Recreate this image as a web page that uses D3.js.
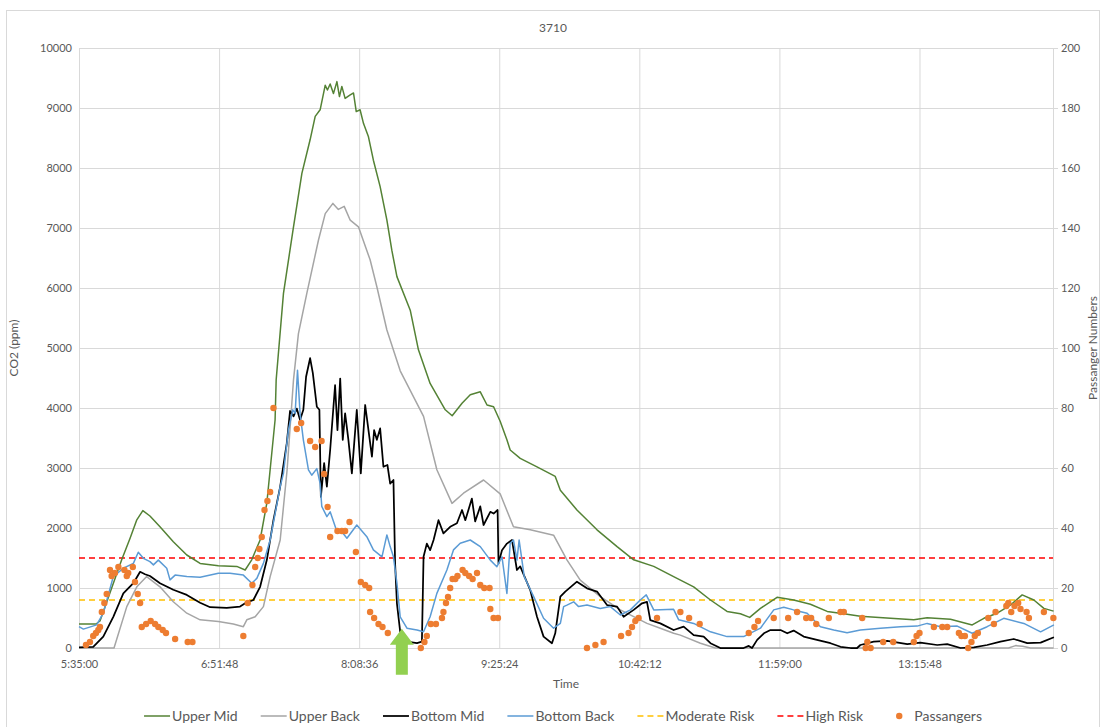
<!DOCTYPE html>
<html>
<head>
<meta charset="utf-8">
<script src="https://cdn.jsdelivr.net/npm/d3@7"></script>
<style>
  body { margin: 0; background: #fff; }
  svg text { font-family: Lato, "Open Sans", sans-serif; fill: #595959; }
</style>
</head>
<body>
<div id="chart"></div>
<script>
// Bus 3710 — CO2 at four sensor positions + passenger count
// time values are minutes after the first sample (5:35:00)

const startClock = "5:35:00";
const endMinutes = 534;
const timeTicks = ["5:35:00", "6:51:48", "8:08:36", "9:25:24", "10:42:12", "11:59:00", "13:15:48"];
const co2Ticks = [0, 1000, 2000, 3000, 4000, 5000, 6000, 7000, 8000, 9000, 10000];
const paxTicks = [0, 20, 40, 60, 80, 100, 120, 140, 160, 180, 200];

const moderateRisk = 800;
const highRisk = 1500;

// green arrow annotation (time, ppm at tip)
const arrowTime = 177;
const arrowPpm = 320;

const upperMid = [
  [0,400],[9.3,400],[11.5,450],[17,920],[23.4,1470],[28,1830],[31.6,2130],[35,2290],[38.9,2200],[44.4,2020],
  [51.7,1770],[59.1,1550],[66.4,1410],[76.4,1370],[86.5,1360],[91.1,1300],[94.7,1470],[99.3,1800],[103,2420],
  [105.7,3250],[107.5,3800],[108.1,4470],[112.1,5910],[117.6,7020],[122.2,7910],[126.7,8470],[129.5,8860],
  [132.2,8970],[135,9380],[136.2,9300],[137.7,9400],[139.5,9240],[141.4,9440],[142.8,9190],[144.1,9360],
  [145.9,9160],[148.7,9220],[150.5,9250],[152,8940],[154.1,8970],[156,8740],[158.7,8520],[161.4,8130],
  [165.1,7690],[168.8,7130],[171.5,6630],[174.3,6190],[181.6,5630],[186.1,4970],[192.5,4410],[200.8,3970],
  [204.6,3870],[210,4080],[214.5,4220],[220,4270],[223.7,4050],[227.3,4020],[230.9,3780],[234.6,3470],
  [236.4,3300],[241.9,3160],[251.1,3020],[261.1,2860],[263.9,2630],[273,2300],[284,1970],[295,1690],
  [304.1,1470],[315.1,1360],[326,1190],[337,1020],[346.2,800],[355.3,610],[362.6,570],[367.7,510],
  [373.6,660],[382.7,845],[391.8,800],[401,730],[410.2,610],[419.3,570],[428.4,530],[444.9,495],
  [457.7,470],[465,505],[477.8,480],[489.7,385],[496.1,495],[503.4,580],[510.7,715],[517.1,885],
  [523.5,800],[529,660],[534.3,615]
];

const upperBack = [
  [0,0],[19.2,0],[26.2,690],[31.7,1020],[37.1,1190],[44.4,1020],[51.7,770],[59.1,580],[66.4,470],[76.4,440],
  [84.6,400],[90.1,355],[92,470],[96.6,520],[101.1,690],[104.8,1190],[110.3,1800],[114.1,2970],[117.6,4470],
  [120.3,5240],[124.9,5910],[131.3,6800],[135,7240],[139.2,7410],[142.2,7310],[145.4,7360],[148.7,7130],
  [153.2,7020],[159.6,6470],[163.3,6020],[168.8,5300],[176.1,4620],[188.9,3860],[196.2,2970],[204.5,2410],
  [210.8,2580],[221.8,2800],[230.9,2570],[238.2,2020],[247.4,1970],[260.2,1880],[267.5,1470],[274.8,1130],
  [285.8,855],[296.8,635],[311.4,410],[318.7,330],[326,245],[329.7,215],[340.7,80],[348.9,0],[509.6,0],
  [513.5,40],[517.3,30],[521.7,0],[534.3,0]
];

const bottomMid = [
  [0,10],[7.8,20],[13.3,190],[18.8,520],[24.3,910],[29.8,1080],[33.5,1270],[36.2,1230],[38.9,1200],[44.4,1080],
  [51.7,970],[59.1,885],[66.4,755],[71.9,680],[81,670],[88.3,690],[91.1,745],[95.6,800],[99.3,1020],[103,1470],
  [106.6,2130],[110.3,2690],[113.9,3410],[115.7,3950],[117.6,3860],[119.4,3990],[121.2,3800],[123,3970],
  [124.5,4520],[126.7,4830],[128.2,4580],[130.4,4020],[131.8,3970],[132.6,2520],[134.4,3080],[135.9,2690],
  [137.7,3300],[140.4,4380],[141.7,3630],[143.2,4490],[144.6,3470],[145.9,3910],[147.7,3470],[149.6,2910],
  [152.3,3970],[154.5,2910],[156.9,4050],[158.7,3630],[160.6,3190],[161.8,3630],[163.3,3470],[165.1,3660],
  [166.9,3020],[169.1,3050],[170.6,2740],[172.4,2800],[173.3,1410],[174.3,745],[176.1,270],[179.8,105],
  [185.3,80],[188,105],[188.9,1520],[190.7,1740],[192.5,1630],[194.4,1800],[197.1,2130],[199.8,1910],
  [203.5,2020],[207.2,2080],[210,2300],[211.8,2130],[215.4,2490],[217.2,2110],[220,2360],[221.8,2050],
  [225.5,2270],[227.3,2240],[229.5,2300],[230,1410],[231.9,1630],[234.6,1740],[237.4,1800],[240.1,1300],
  [241.9,1360],[247.4,965],[251.1,520],[254.7,190],[259.3,80],[261.1,245],[263.9,855],[266.6,940],
  [273,1105],[278.5,995],[284,940],[289.5,715],[295,690],[298.6,520],[304.1,635],[308.7,745],[311.4,770],
  [313.2,465],[318.7,410],[326,300],[331.5,355],[337,215],[342.5,190],[346.2,80],[351.6,0],[364.4,0],
  [367.2,35],[369,0],[371.8,135],[375.5,245],[379.1,300],[384.6,300],[388.3,245],[391.8,290],[397.3,190],
  [404.6,135],[412,80],[417.5,20],[423,0],[426.6,0],[428.4,50],[435.7,105],[443.1,120],[454.1,65],
  [461.3,90],[470.5,50],[476,65],[483.3,0],[490.6,10],[497.9,50],[505.2,105],[512.5,150],[519.9,80],
  [527.2,90],[534.5,180]
];

const bottomBack = [
  [0,355],[2.4,315],[9.7,385],[13.3,580],[18.8,1190],[24.3,1330],[29.8,1410],[32.5,1595],[35.3,1495],
  [38.9,1440],[40.8,1385],[43.5,1465],[48.1,1330],[49.9,1135],[52.7,1215],[59.1,1190],[66.4,1180],
  [76.4,1245],[82.8,1245],[90.1,1215],[94.7,1080],[97.5,1160],[101.1,1410],[104.8,1800],[110.3,2690],
  [112.1,2910],[114.8,3630],[117.2,3970],[118.5,3910],[119.8,4630],[121.2,3910],[123,3470],[125.8,2970],
  [127.6,2880],[130.4,2990],[132.2,2740],[133.1,2360],[135.9,2190],[137.7,2270],[141.4,1940],[143.2,1970],
  [146.9,1830],[152.3,2050],[157.8,1855],[161.4,1635],[166.1,1520],[168.8,1885],[170.6,1690],[172.4,1520],
  [174.3,1080],[176.1,520],[179.8,330],[185.3,300],[188.9,270],[192.5,520],[196.2,910],[201.7,1300],
  [205.3,1635],[209,1745],[214.5,1800],[220,1690],[225.5,1465],[229.1,1355],[231.9,1520],[234.6,910],
  [236.4,1745],[238.2,1800],[240.1,1465],[241.3,1800],[244.1,1190],[249.2,860],[254.7,495],[260.2,330],
  [263.9,410],[265.7,690],[267.5,715],[271.2,770],[273.9,690],[278.5,715],[285.8,660],[291.3,690],
  [296.8,550],[302.3,635],[307.7,800],[311,885],[315.1,635],[326,645],[328.8,470],[337,410],[346.2,270],
  [355.3,190],[364.4,190],[373.6,330],[380.9,635],[386.4,680],[391.8,635],[399.2,580],[406.5,355],
  [413.8,300],[421.1,255],[428.4,300],[439.4,330],[450.4,355],[459.5,365],[465,410],[472.3,355],
  [481.5,365],[489.7,245],[497.9,355],[507,495],[518,410],[527.2,270],[534.5,385]
];

const passengers = [
  [3.8,1],[6,2],[7.8,4],[9.3,5],[10.6,6],[11.5,7],[12.5,12],[13.9,15],[15.2,18],[17,26],[17.9,24],[19.7,25],
  [21.6,27],[24.9,26],[26.2,24],[27,25],[29.5,27],[30.7,22],[32.2,18],[33.5,15],[34.4,7],[36.8,8],[39.3,9],
  [41.7,8],[43.5,7],[45.9,6],[47.7,5],[52.7,3],[59.6,2],[62.2,2],[90.1,4],[92.5,15],[95.1,21],[96.6,27],
  [98,30],[98.9,33],[100.2,37],[101.7,46],[103.3,49],[104.8,52],[106.6,80],[119.4,73],[121.8,75],[126.7,69],
  [129.5,67],[133,69],[134.4,58],[136.3,47],[137.7,37],[141.7,39],[144.1,39],[145.9,39],[148.3,42],
  [151.8,32],[154.5,22],[156.9,21],[159.1,20],[159.6,12],[161.8,10],[164.2,8],[166.4,7],[169.3,5],
  [187.4,0],[189.4,2],[190.7,4],[192.9,8],[195.7,8],[199,10],[199.8,12],[201.2,15],[202.3,17],[203.5,20],
  [204.8,23],[206.3,23],[207.5,24],[210.3,26],[211.8,25],[213.9,24],[215.8,23],[218.2,25],[220,21],
  [222.2,20],[225.1,20],[225.5,13],[227.3,10],[229.7,10],[278.5,0],[283.1,1],[287.6,2],[297.2,4],
  [301.3,5],[303.2,7],[305,9],[306.8,10],[316.9,10],[329.7,12],[334.5,10],[340.3,8],[367.2,5],[370.3,7],
  [372.3,9],[380.9,10],[388.8,10],[393.7,12],[398.7,10],[401.4,10],[404.2,8],[411.1,10],[417.5,12],
  [419.3,12],[429.4,10],[431.3,0],[432.2,2],[434,0],[440.9,2],[446.4,2],[457.7,2],[459.2,4],[460.8,5],
  [468.7,7],[473.3,7],[476,7],[482.4,5],[483.8,4],[485.7,4],[487.5,0],[489.3,2],[491.1,4],[492.8,5],
  [498.5,10],[501.6,8],[502.5,12],[508.4,14],[509.5,15],[511.1,12],[512.9,14],[514.9,15],[516.2,13],
  [519.5,12],[520.8,10],[529,12],[534.2,10]
];

const lineSeries = [
  { name: "Upper Mid",   data: upperMid,   color: "#548235", width: 1.5 },
  { name: "Upper Back",  data: upperBack,  color: "#a5a5a5", width: 1.5 },
  { name: "Bottom Mid",  data: bottomMid,  color: "#000000", width: 1.75 },
  { name: "Bottom Back", data: bottomBack, color: "#5b9bd5", width: 1.5 }
];
const riskLines = [
  { name: "Moderate Risk", value: moderateRisk, color: "#ffc000" },
  { name: "High Risk",     value: highRisk,     color: "#ff0000" }
];
const paxColor = "#ed7d31";

function clockToMin(s) {
  const [h, m, sec] = s.split(":").map(Number);
  return h * 60 + m + sec / 60;
}
const t0 = clockToMin(startClock);

const width = 1103, height = 727;
const margin = { top: 48, right: 50, bottom: 79, left: 79 };
const plot_width = width - margin.left - margin.right;
const plot_height = height - margin.top - margin.bottom;

const svg = d3.select("#chart").append("svg")
  .attr("width", width)
  .attr("height", height);

// chart area border
svg.append("rect")
  .attr("x", 6.5).attr("y", 10.5)
  .attr("width", 1093).attr("height", 740)
  .attr("fill", "#fff")
  .attr("stroke", "#d9d9d9");

const plot = svg.append("g")
  .attr("transform", `translate(${margin.left},${margin.top})`);

// SCALES
const xScale = d3.scaleLinear().domain([0, endMinutes]).range([0, plot_width]);
const yScale = d3.scaleLinear().domain([0, 10000]).range([plot_height, 0]);
const y2Scale = d3.scaleLinear().domain([0, 200]).range([plot_height, 0]);

// GRIDLINES
plot.append("g")
  .attr("class", "grid")
  .call(d3.axisLeft(yScale).tickValues(co2Ticks).tickSize(-plot_width).tickFormat(""))
  .call(g => g.select(".domain").remove());

plot.append("g")
  .attr("class", "grid")
  .attr("transform", `translate(0,${plot_height})`)
  .call(d3.axisBottom(xScale)
    .tickValues(timeTicks.map(s => clockToMin(s) - t0))
    .tickSize(-plot_height)
    .tickPadding(12)
    .tickFormat((d, i) => timeTicks[i]));

plot.selectAll(".grid line").attr("stroke", "#d9d9d9");
plot.selectAll(".grid .domain").attr("stroke", "#d9d9d9");

// AXES
plot.append("g")
  .attr("class", "axis y-axis")
  .call(d3.axisLeft(yScale).tickValues(co2Ticks).tickSize(0).tickPadding(7).tickFormat(d3.format("d")))
  .call(g => g.select(".domain").remove());

plot.append("g")
  .attr("class", "axis y2-axis")
  .attr("transform", `translate(${plot_width},0)`)
  .call(d3.axisRight(y2Scale).tickValues(paxTicks).tickSize(5).tickPadding(3));

plot.selectAll(".y2-axis line, .y2-axis .domain").attr("stroke", "#d9d9d9");
plot.selectAll(".tick text")
  .style("font-size", "11px")
  .attr("fill", "#595959");

// RISK LINES
riskLines.forEach(r => {
  plot.append("line")
    .attr("x1", xScale(0)).attr("x2", xScale(endMinutes))
    .attr("y1", yScale(r.value)).attr("y2", yScale(r.value))
    .attr("stroke", r.color)
    .attr("stroke-width", 1.5)
    .attr("stroke-dasharray", "6,4");
});

// CO2 LINES
const lineGen = d3.line()
  .x(d => xScale(d[0]))
  .y(d => yScale(d[1]));

lineSeries.forEach(s => {
  plot.append("path")
    .datum(s.data)
    .attr("d", lineGen)
    .attr("fill", "none")
    .attr("stroke", s.color)
    .attr("stroke-width", s.width)
    .attr("stroke-linejoin", "round");
});

// PASSENGERS (secondary axis)
plot.append("g")
  .selectAll("circle")
  .data(passengers)
  .join("circle")
  .attr("cx", d => xScale(d[0]))
  .attr("cy", d => y2Scale(d[1]))
  .attr("r", 3.2)
  .attr("fill", paxColor);

// GREEN ARROW annotation
const ax = xScale(arrowTime), ay = yScale(arrowPpm);
const arrowPts = [
  [ax, ay], [ax + 12, ay + 16], [ax + 6, ay + 16], [ax + 6, ay + 46],
  [ax - 6, ay + 46], [ax - 6, ay + 16], [ax - 12, ay + 16]
];
plot.append("path")
  .attr("d", d3.line()(arrowPts) + "Z")
  .attr("fill", "#92d050");

// TITLES
svg.append("text")
  .attr("x", 553).attr("y", 32)
  .attr("text-anchor", "middle")
  .style("font-size", "12px")
  .text("3710");

plot.append("text")
  .attr("x", plot_width / 2).attr("y", plot_height + 40)
  .attr("text-anchor", "middle")
  .style("font-size", "12px")
  .text("Time");

svg.append("text")
  .attr("transform", `translate(18,${margin.top + plot_height / 2}) rotate(-90)`)
  .attr("text-anchor", "middle")
  .style("font-size", "12px")
  .text("CO2 (ppm)");

svg.append("text")
  .attr("transform", `translate(1097,${margin.top + plot_height / 2}) rotate(-90)`)
  .attr("text-anchor", "middle")
  .style("font-size", "12px")
  .text("Passanger Numbers");

// LEGEND
const legendItems = [
  ...lineSeries.map(s => ({ name: s.name, color: s.color, kind: "line", width: s.width })),
  ...riskLines.map(r => ({ name: r.name, color: r.color, kind: "dash", width: 1.5 })),
  { name: "Passangers", color: paxColor, kind: "dot" }
];

const legendG = svg.append("g").attr("transform", "translate(0,716)");
let cursor = 0;
legendItems.forEach(item => {
  const g = legendG.append("g").attr("transform", `translate(${cursor},0)`);
  if (item.kind === "dot") {
    g.append("circle").attr("cx", 13).attr("cy", 0).attr("r", 3.2).attr("fill", item.color);
  } else {
    g.append("line")
      .attr("x1", 0).attr("x2", 26).attr("y1", 0).attr("y2", 0)
      .attr("stroke", item.color)
      .attr("stroke-width", item.width)
      .attr("stroke-dasharray", item.kind === "dash" ? "6,4" : null);
  }
  const txt = g.append("text")
    .attr("x", 28).attr("y", 0)
    .attr("dy", "0.35em")
    .style("font-size", "14px")
    .text(item.name);
  cursor += 28 + txt.node().getComputedTextLength() + 23;
});
const legendWidth = cursor - 23;
legendG.attr("transform", `translate(${563 - legendWidth / 2},716)`);
</script>
</body>
</html>
